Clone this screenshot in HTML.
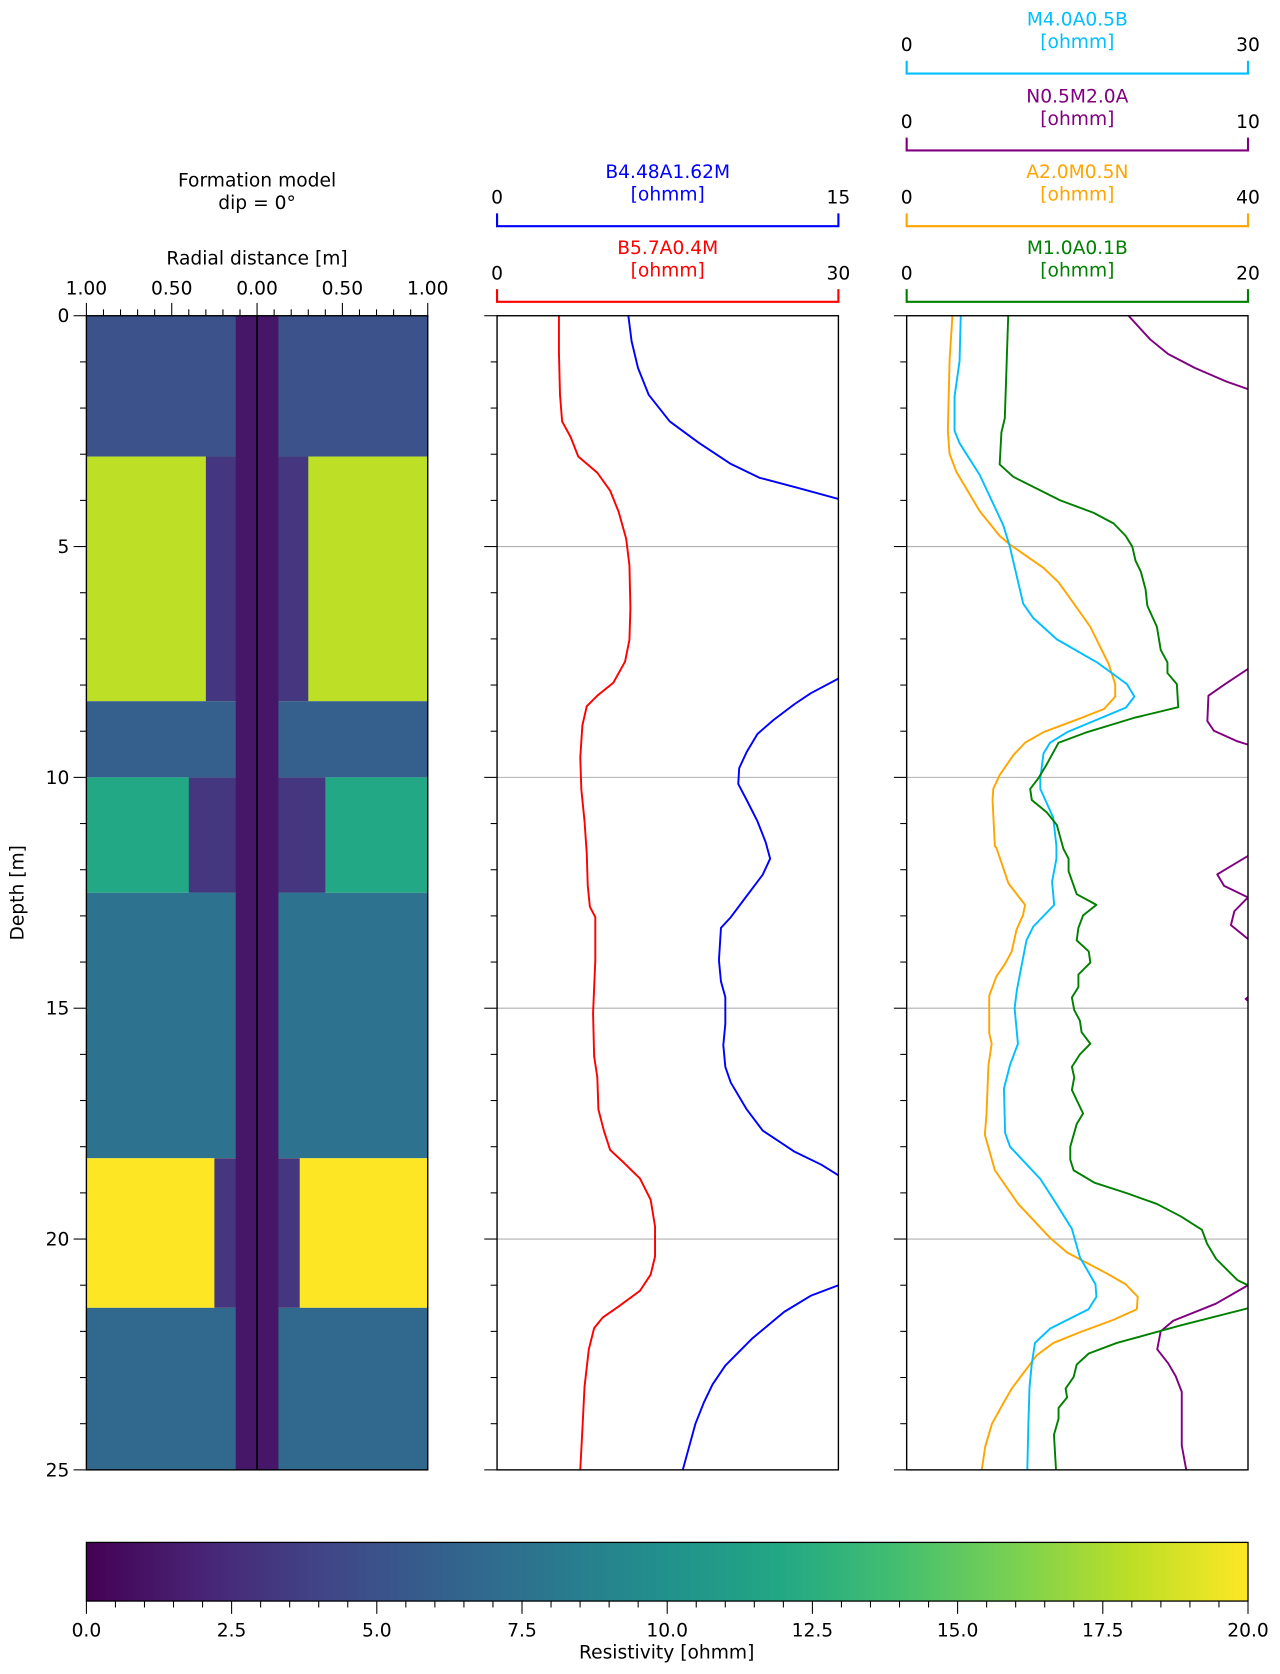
<!DOCTYPE html>
<html><head><meta charset="utf-8">
<style>
html,body{margin:0;padding:0;background:#fff;}
svg{display:block;font-family:"DejaVu Sans","Liberation Sans",sans-serif;}
</style></head>
<body>
<svg id="chart" width="1280" height="1674" viewBox="0 0 1200 1569.375" xmlns="http://www.w3.org/2000/svg">
<defs>
<linearGradient id="viridis" x1="0" x2="1" y1="0" y2="0">
<stop offset="0" stop-color="#440154"/><stop offset="0.1" stop-color="#482475"/><stop offset="0.2" stop-color="#414487"/><stop offset="0.3" stop-color="#355f8d"/><stop offset="0.4" stop-color="#2a788e"/><stop offset="0.5" stop-color="#21918c"/><stop offset="0.6" stop-color="#22a884"/><stop offset="0.7" stop-color="#44bf70"/><stop offset="0.8" stop-color="#7ad151"/><stop offset="0.9" stop-color="#bddf26"/><stop offset="1" stop-color="#fde725"/>
</linearGradient>
<clipPath id="clip2"><rect x="466" y="296" width="320" height="1082"/></clipPath>
<clipPath id="clip3"><rect x="850" y="296" width="320" height="1082"/></clipPath>
</defs>
<g id="root"></g>
</svg>
<script>
// ---- data ----
const layerTop = [0, 3.05, 8.35, 10.0, 12.5, 18.25, 21.49];
const layerBottom = [3.05, 8.35, 10.0, 12.5, 18.25, 21.49, 25];
const layerRes = [5.0, 18.0, 6.0, 12.0, 7.5, 20.0, 6.7];
const invadedRadius = [0, 0.3, 0, 0.4, 0, 0.25, 0];
const invadedRes = 3.2;
const boreholeRadius = 0.125;
const boreholeRes = 1.2;
const radialTicks = [-1, -0.5, 0, 0.5, 1];
const radialTickLabels = ["1.00", "0.50", "0.00", "0.50", "1.00"];
const depthTicks = [0, 5, 10, 15, 20, 25];
const colorbarTicks = [0, 2.5, 5, 7.5, 10, 12.5, 15, 17.5, 20];
const colorbarTickLabels = ["0.0","2.5","5.0","7.5","10.0","12.5","15.0","17.5","20.0"];

const redDepth = [0,0.79,1.71,2.29,2.63,3.05,3.40,3.79,4.25,4.83,5.41,6.33,7.02,7.49,7.95,8.23,8.46,8.87,9.57,10.26,10.95,11.65,12.34,12.8,13.03,13.96,15.11,16.04,16.5,17.19,17.65,18.07,18.35,18.69,19.15,19.73,20.38,20.77,21.12,21.46,21.7,21.93,22.39,23.2,24.12,25];
const redVal = [5.44,5.44,5.53,5.72,6.47,7.13,8.81,9.94,10.69,11.34,11.63,11.72,11.63,11.25,10.22,8.81,7.88,7.5,7.31,7.41,7.69,7.88,7.97,8.16,8.63,8.63,8.44,8.53,8.81,8.91,9.38,9.94,11.16,12.56,13.5,13.88,13.88,13.5,12.56,10.69,9.28,8.53,8.06,7.69,7.5,7.31];
const blueDepth = [0,0.55,1.13,1.71,2.29,2.75,3.21,3.51,3.74,3.97,4.2,null,7.49,7.86,8.18,8.41,8.76,9.06,9.45,9.8,10.14,10.49,10.95,11.41,11.76,12.11,12.57,13.03,13.26,13.96,14.42,14.76,15.34,15.8,16.27,16.61,17.19,17.65,18.11,18.39,18.62,18.92,null,20.54,21.0,21.23,21.58,22.16,22.74,23.15,23.54,24.0,25];
const blueVal = [5.77,5.91,6.19,6.66,7.59,8.86,10.27,11.53,13.31,15,16.6,null,16.6,15,13.78,13.08,12.14,11.44,10.97,10.64,10.6,10.97,11.44,11.81,12.0,11.67,10.97,10.27,9.84,9.75,9.84,10.03,10.03,9.94,10.03,10.27,10.97,11.67,13.08,14.25,15,16.6,null,16.6,15,13.78,12.61,11.2,10.03,9.47,9.09,8.72,8.16];

const cyanDepth = [0,0.98,1.75,2.49,2.76,3.45,4.54,5.0,6.24,6.55,7.01,7.51,7.98,8.25,8.49,9.02,9.25,9.48,10.02,10.25,10.87,11.49,11.76,12.26,12.76,13.23,13.53,14.61,15.0,15.77,16.23,16.74,17.7,18.0,18.7,19.24,19.78,20.4,20.98,21.25,21.52,21.94,22.25,22.7,23.2,24,25];
const cyanVal = [4.75,4.65,4.21,4.21,4.65,6.42,8.49,9.07,10.25,11.14,13.2,16.73,19.36,20.02,19.27,14.1,12.6,12.03,11.75,11.75,12.88,13.16,13.16,12.78,12.97,11.14,10.53,9.68,9.49,9.78,9.08,8.55,8.65,9.08,11.75,13.16,14.52,15.23,16.59,16.68,15.98,12.6,11.28,11.0,10.8,10.7,10.6];
const purpleDepth = [0,0.51,0.83,1.13,1.43,1.59,1.8,null,7.4,7.65,7.99,8.23,8.78,8.99,9.22,9.29,9.4,null,11.4,11.7,12.1,12.35,12.6,12.9,13.2,13.5,13.8,null,14.6,14.8,15.0,null,20.8,21.0,21.4,21.77,22.0,22.39,22.69,22.97,23.31,24.12,24.47,25];
const purpleVal = [6.5,7.13,7.66,8.44,9.38,10,10.5,null,10.4,10,9.31,8.84,8.81,9.0,9.69,10,10.5,null,10.5,10,9.1,9.3,10,9.6,9.5,10,10.4,null,10.3,9.93,10.3,null,10.6,10,9.06,7.81,7.44,7.34,7.66,7.88,8.06,8.06,8.06,8.19];
const orangeDepth = [0,0.98,2.49,2.99,3.38,4.23,4.77,4.96,5.46,5.77,6.08,6.74,7.55,7.98,8.25,8.52,8.75,9.02,9.25,9.52,9.95,10.25,10.49,11.49,11.53,12.3,12.76,12.99,13.3,13.77,14.04,14.31,14.73,15.54,15.77,16.23,17.31,17.74,18.51,19.24,19.98,20.29,20.75,20.98,21.25,21.52,21.75,22.02,22.25,22.52,23.24,23.5,24.0,24.5,25];
const orangeVal = [5.36,5.03,4.83,5.03,5.82,8.55,10.9,12.13,16.03,17.77,18.99,21.53,23.69,24.44,24.44,23.12,19.93,16.03,13.87,12.5,10.9,10.15,10.06,10.34,10.53,11.94,13.87,13.63,12.88,12.31,11.52,10.53,9.68,9.68,9.96,9.59,9.35,9.16,10.34,13.07,16.83,18.8,23.5,25.66,27.07,26.98,24.25,20.3,17.2,15.23,12.31,11.5,10.0,9.2,8.8];
const greenDepth = [0,0.98,2.22,2.53,3.22,3.49,4.0,4.27,4.5,4.77,5.0,5.31,5.54,5.93,6.28,6.74,7.24,7.51,7.74,7.98,8.48,8.71,9.02,9.25,9.71,10.02,10.25,10.49,10.76,11.03,11.55,11.76,12.03,12.53,12.76,12.99,13.26,13.53,13.77,14.01,14.27,14.54,14.77,15.04,15.27,15.52,15.77,16.0,16.27,16.5,16.77,17.28,17.51,18.0,18.28,18.51,18.78,19.01,19.24,19.51,19.8,20.1,20.43,20.89,21.0,21.2,21.5,21.87,22.25,22.48,22.72,22.99,23.24,23.43,23.66,23.89,24.24,25];
const greenVal = [5.95,5.86,5.75,5.55,5.45,6.25,9.0,10.96,12.13,12.83,13.22,13.41,13.72,14.0,14.1,14.66,14.89,15.28,15.28,15.83,15.91,13.32,10.57,8.9,8.22,7.71,7.24,7.33,8.22,8.8,9.19,9.49,9.49,9.96,11.12,10.34,10.06,9.96,10.67,10.76,10.06,10.06,9.68,9.82,10.15,10.25,10.76,10.15,9.68,9.82,9.68,10.34,9.96,9.59,9.59,9.78,11.0,12.93,14.66,16.07,17.3,17.6,18.13,19.38,20,21.3,20,16.07,12.31,10.67,9.96,9.78,9.31,9.4,8.9,8.9,8.63,8.75];

// ---- layout ----
const NS = "http://www.w3.org/2000/svg";
const root = document.getElementById("root");
const TOP = 296, BOT = 1378, PW = 320;
const P1 = 81, P2 = 466, P3 = 850;
const FS = 17.5;
function yScale(d){ return TOP + d/25*(BOT-TOP); }
function rScale(r){ return P1 + (r+1)/2*PW; }
function vScale(x0, max, v){ return x0 + v/max*PW; }
function mk(tag, attrs, parent){
  const e = document.createElementNS(NS, tag);
  for (const k in attrs) e.setAttribute(k, attrs[k]);
  (parent||root).appendChild(e);
  return e;
}
function txt(x, y, s, opts, parent){
  const t = mk("text", Object.assign({x:x, y:y, "font-size":FS, fill:"#000", "text-anchor":"middle"}, opts||{}), parent);
  t.textContent = s;
  return t;
}
function viridis(v){
  const stops = ["#440154","#482475","#414487","#355f8d","#2a788e","#21918c","#22a884","#44bf70","#7ad151","#bddf26","#fde725"];
  let f = Math.max(0, Math.min(1, v/20))*10;
  const i = Math.min(9, Math.floor(f)), t = f - i;
  const a = stops[i], b = stops[i+1];
  const c = k => Math.round(parseInt(a.substr(k,2),16)*(1-t) + parseInt(b.substr(k,2),16)*t);
  return "rgb("+c(1)+","+c(3)+","+c(5)+")";
}

// ---- panel 1: formation model ----
const g1 = mk("g", {});


for (let i = 0; i < layerTop.length; i++){
  const y0 = yScale(layerTop[i]), y1 = yScale(layerBottom[i]);
  const r = mk("rect", {x:P1, y:y0, width:PW, height:y1-y0, fill:viridis(layerRes[i])}, g1);
  
  
  if (invadedRadius[i] > 0){
    const xa = rScale(-invadedRadius[i]), xb = rScale(invadedRadius[i]);
    const iv = mk("rect", {x:xa, y:y0, width:xb-xa, height:y1-y0, fill:viridis(invadedRes)}, g1);
    
    
  }
}
const bh = mk("rect", {x:rScale(-boreholeRadius), y:TOP, width:rScale(boreholeRadius)-rScale(-boreholeRadius), height:BOT-TOP, fill:viridis(boreholeRes)}, g1);


const axl = mk("line", {x1:rScale(0), x2:rScale(0), y1:TOP, y2:BOT, stroke:"#000", "stroke-width":1.6}, g1);


for (let k = -10; k <= 10; k++){
  const x = rScale(k/10);
  const major = (k % 5 === 0);
  mk("line", {x1:x, x2:x, y1:TOP, y2:TOP-(major?12:6), stroke:"#000", "stroke-width":1}, g1);
}
radialTicks.forEach((r, i) => {
  const t = txt(rScale(r), TOP-20, radialTickLabels[i], {}, g1);
  
  
});
const rt = txt(241, 248, "Radial distance [m]", {}, g1);


const ft = txt(241, 175, "Formation model", {}, g1);


const ft2 = txt(241, 196, "dip = 0°", {}, g1);


depthTicks.forEach(d => {
  const t = txt(65, yScale(d)+6, String(d), {"text-anchor":"end"}, g1);
  
  
});
const dt = txt(0, 0, "Depth [m]", {transform:"translate(22,837) rotate(-90)"}, g1);



function depthAxis(x0, grid, parent){
  if (grid){
    for (let d = 5; d < 25; d += 5){
      const gl = mk("line", {x1:x0, x2:x0+PW, y1:yScale(d), y2:yScale(d), stroke:"#b0b0b0", "stroke-width":1}, parent);
      
      
    }
  }
  for (let d = 0; d <= 25; d++){
    const major = d % 5 === 0;
    mk("line", {x1:x0, x2:x0-(major?12:6), y1:yScale(d), y2:yScale(d), stroke:"#000", "stroke-width":1}, parent);
  }
}
function frame(x0, parent, name){
  const f = mk("rect", {x:x0, y:TOP, width:PW, height:BOT-TOP, fill:"none", stroke:"#000", "stroke-width":1.3}, parent);
  
  
}
depthAxis(P1, false, g1);
frame(P1, g1, "formation-frame");

function curve(x0, max, depths, vals, color, clip, parent, name){
  let d = "", pen = false;
  for (let i = 0; i < depths.length; i++){
    if (depths[i] === null || vals[i] === null){ pen = false; continue; }
    d += (pen ? "L" : "M") + vScale(x0, max, vals[i]).toFixed(1) + "," + yScale(depths[i]).toFixed(1);
    pen = true;
  }
  const p = mk("path", {d:d, fill:"none", stroke:color, "stroke-width":1.8, "stroke-linejoin":"round", "clip-path":"url(#"+clip+")"}, parent);
  
  
}
function scaleBar(x0, y, color, title, maxLabel, parent, name){
  const g = mk("g", {}, parent);
  
  
  mk("path", {d:"M"+x0+","+(y-12)+"V"+y+"H"+(x0+PW)+"V"+(y-12), fill:"none", stroke:color, "stroke-width":2}, g);
  txt(x0, y-21, "0", {}, g);
  txt(x0+PW, y-21, maxLabel, {}, g);
  txt(x0+PW/2, y-45, title, {fill:color}, g);
  txt(x0+PW/2, y-24, "[ohmm]", {fill:color}, g);
}

// ---- panel 2 ----
const g2 = mk("g", {});


depthAxis(P2, true, g2);
curve(P2, 30, redDepth, redVal, "#ff0000", "clip2", g2, "curve-b5.7a0.4m");
curve(P2, 15, blueDepth, blueVal, "#0000ff", "clip2", g2, "curve-b4.48a1.62m");
frame(P2, g2, "panel2-frame");
scaleBar(P2, 212, "#0000ff", "B4.48A1.62M", "15", g2, "scale-b4.48a1.62m");
scaleBar(P2, 283, "#ff0000", "B5.7A0.4M", "30", g2, "scale-b5.7a0.4m");

// ---- panel 3 ----
const g3 = mk("g", {});


depthAxis(P3, true, g3);
curve(P3, 10, purpleDepth, purpleVal, "#800080", "clip3", g3, "curve-n0.5m2.0a");
curve(P3, 40, orangeDepth, orangeVal, "#ffa500", "clip3", g3, "curve-a2.0m0.5n");
curve(P3, 30, cyanDepth, cyanVal, "#00bfff", "clip3", g3, "curve-m4.0a0.5b");
curve(P3, 20, greenDepth, greenVal, "#008000", "clip3", g3, "curve-m1.0a0.1b");
frame(P3, g3, "panel3-frame");
scaleBar(P3, 69, "#00bfff", "M4.0A0.5B", "30", g3, "scale-m4.0a0.5b");
scaleBar(P3, 141, "#800080", "N0.5M2.0A", "10", g3, "scale-n0.5m2.0a");
scaleBar(P3, 212, "#ffa500", "A2.0M0.5N", "40", g3, "scale-a2.0m0.5n");
scaleBar(P3, 283, "#008000", "M1.0A0.1B", "20", g3, "scale-m1.0a0.1b");

// ---- colorbar ----
const CB0 = 81, CB1 = 1170, CBY = 1446, CBH = 55;
const gc = mk("g", {});


mk("rect", {x:CB0, y:CBY, width:CB1-CB0, height:CBH, fill:"url(#viridis)", stroke:"#000", "stroke-width":1.2}, gc);
function cbX(v){ return CB0 + v/20*(CB1-CB0); }
for (let k = 0; k <= 40; k++){
  const v = k*0.5, major = k % 5 === 0;
  mk("line", {x1:cbX(v), x2:cbX(v), y1:CBY+CBH, y2:CBY+CBH+(major?12:6), stroke:"#000", "stroke-width":1}, gc);
}
colorbarTicks.forEach((v, i) => {
  const t = txt(cbX(v), 1534, colorbarTickLabels[i], {}, gc);
  
  
});
const ct = txt(625, 1555, "Resistivity [ohmm]", {}, gc);


</script>
</body></html>
